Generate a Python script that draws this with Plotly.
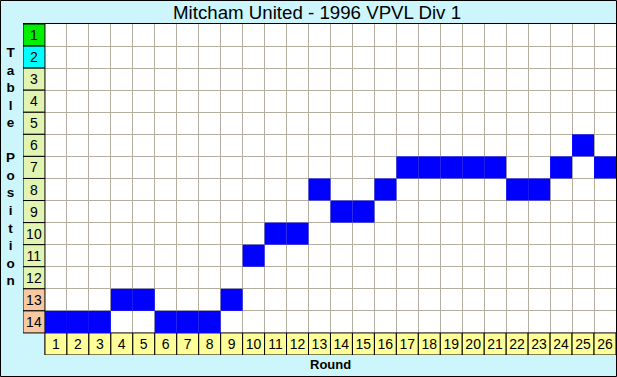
import plotly.graph_objects as go

title = "Mitcham United - 1996 VPVL Div 1"
rounds = list(range(1, 27))
positions = [14, 14, 14, 13, 13, 14, 14, 14, 13, 11, 10, 10, 8, 9, 9, 8, 7, 7, 7, 7, 7, 8, 8, 7, 6, 7]
table_rows = list(range(1, 15))
row_colors = ["#00ee00", "#00ffff"] + ["#e2f4b2"] * 10 + ["#f8c8a0"] * 2

BG = "#ccf6fc"
W, H = 617, 377
ML, MR, MT, MB = 23, 1, 24, 22
PW, PH = W - ML - MR, H - MT - MB

fig = go.Figure()

# position label column
fig.add_trace(go.Bar(
    orientation="h", y=table_rows, x=[1] * len(table_rows), base=-0.5, width=1,
    marker=dict(color=row_colors, line=dict(color="black", width=1)),
    text=[str(r) for r in table_rows], textposition="inside", insidetextanchor="middle",
    textangle=0, constraintext="none",
    textfont=dict(family="Liberation Sans, Arial", size=14, color="black"),
    hoverinfo="skip", showlegend=False))

# round label row
fig.add_trace(go.Bar(
    x=rounds, y=[1] * len(rounds), base=14.5, width=1,
    marker=dict(color="#ffff99", line=dict(color="black", width=1)),
    text=[str(r) for r in rounds], textposition="inside", insidetextanchor="middle",
    textangle=0, constraintext="none",
    textfont=dict(family="Liberation Sans, Arial", size=14, color="black"),
    hoverinfo="skip", showlegend=False))

# position cells
fig.add_trace(go.Bar(
    x=rounds, y=[1] * len(rounds), base=[p - 0.5 for p in positions], width=1,
    marker=dict(color="#0000ff", line=dict(width=0)),
    hovertemplate="Round %{x}: %{customdata}<extra></extra>", customdata=positions,
    showlegend=False))

fig.update_layout(
    width=W, height=H, barmode="overlay",
    margin=dict(l=ML, r=MR, t=MT, b=MB, pad=0),
    paper_bgcolor=BG, plot_bgcolor="white",
    font=dict(family="Liberation Sans, Arial", color="black"),
    xaxis=dict(range=[-0.5, 26.5], side="top", showline=True, linecolor="black", linewidth=1,
               tickvals=[r + 0.5 for r in range(0, 26)], showticklabels=False, ticks="",
               showgrid=True, gridcolor="#b4ae9e", gridwidth=1, zeroline=False, fixedrange=True),
    yaxis=dict(range=[15.5, 0.5], tickvals=[r + 0.5 for r in range(1, 14)], showticklabels=False,
               ticks="", showgrid=True, gridcolor="#b4ae9e", gridwidth=1, zeroline=False,
               showline=False, fixedrange=True),
    shapes=[
        dict(type="rect", xref="x", yref="y", x0=-0.5, x1=0.5, y0=14.5, y1=15.5,
             fillcolor=BG, line=dict(width=0), layer="below"),
        dict(type="rect", xref="paper", yref="paper",
             x0=(-ML + 0.5) / PW, x1=1 + (MR - 0.5) / PW,
             y0=(-MB + 0.5) / PH, y1=1 + (MT - 0.5) / PH,
             line=dict(color="black", width=1), fillcolor="rgba(0,0,0,0)", layer="above"),
    ],
    annotations=[
        dict(text=title, xref="paper", yref="paper", x=(317 - ML) / PW, y=1 + (MT - 12) / PH,
             xanchor="center", yanchor="middle", showarrow=False,
             font=dict(size=18.7, family="Liberation Sans, Arial")),
        dict(text="<b>Round</b>", xref="paper", yref="paper", x=(330 - ML) / PW, y=-(364 - 355) / PH,
             xanchor="center", yanchor="middle", showarrow=False,
             font=dict(size=13, family="Liberation Sans, Arial")),
        dict(text="<b>" + "<br>".join(list("Table") + [""] + list("Position")) + "</b>",
             xref="paper", yref="paper", x=-(ML - 10) / PW, y=1 - (166 - MT) / PH,
             xanchor="center", yanchor="middle", showarrow=False, align="center",
             font=dict(size=13.5, family="Liberation Sans, Arial")),
    ],
)

fig.write_html("out.html", config={"displayModeBar": False},
               post_script="document.body.style.margin='0';document.body.style.overflow='hidden';")
